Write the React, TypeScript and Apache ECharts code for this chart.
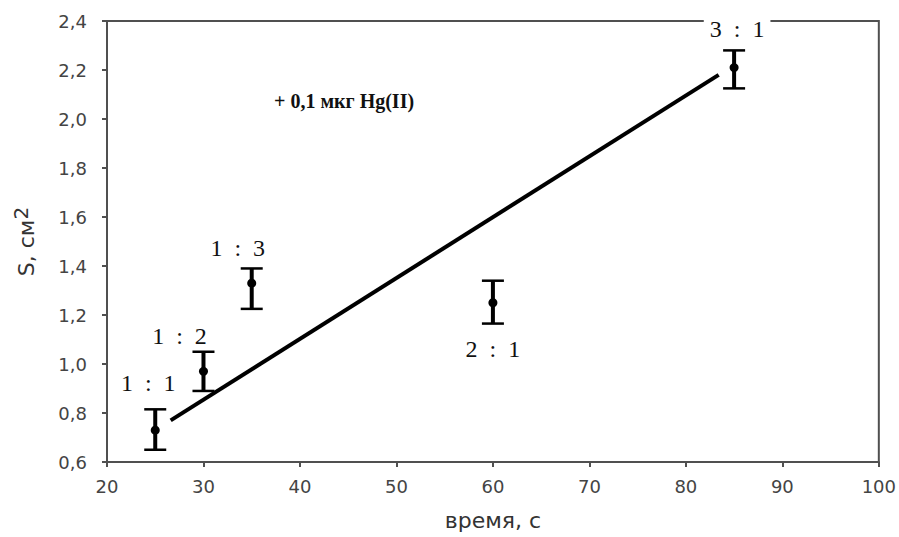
import React, { useEffect, useRef } from "react";
import * as echarts from "echarts";

// measured data (time, s ; S, cm2)
const xValues = [25, 30, 35, 60, 85];
const yValues = [0.73, 0.97, 1.33, 1.25, 2.21];
const errLow = [0.65, 0.89, 1.225, 1.165, 2.125];
const errHigh = [0.815, 1.05, 1.39, 1.34, 2.28];
const ratioLabels = ["1 : 1", "1 : 2", "1 : 3", "2 : 1", "3 : 1"];

// fitted line end points
const fitX = [26.6, 83.4];
const fitY = [0.77, 2.18];

const xAxisName = "время, с";
const yAxisName = "S, см";
const noteText = "+ 0,1 мкг Hg(II)";

// label placement relative to each point (px)
const labelDx = [-7, -24, -14, 0, 3];
const labelDy = [-47, -35, -35, 46, -39];

const SANS = '"DejaVu Sans", Verdana, sans-serif';
const SERIF = '"Liberation Serif", "Times New Roman", serif';

const spaced = (s: string) => s.replace(/ /g, "\u00a0\u00a0");

export default function App() {
  const ref = useRef<HTMLDivElement>(null);
  useEffect(() => {
    if (!ref.current) return;
    const chart = echarts.init(ref.current, undefined, { renderer: "svg" });
    const errData = xValues.map((x, i) => [x, yValues[i], errLow[i], errHigh[i], i]);
    const fitData = fitX.map((x, i) => [x, fitY[i]]);
    chart.setOption({
      animation: false,
      backgroundColor: "#ffffff",
      grid: {
        left: 107,
        right: 19,
        top: 21,
        bottom: 75,
        show: true,
        borderColor: "#505050",
        borderWidth: 2,
        backgroundColor: "transparent",
      },
      xAxis: {
        type: "value",
        min: 20,
        max: 100,
        interval: 10,
        name: xAxisName,
        nameLocation: "middle",
        nameGap: 47,
        nameTextStyle: { fontFamily: SANS, fontSize: 22, color: "#333" },
        axisLine: { show: true, lineStyle: { color: "#505050", width: 2 } },
        axisTick: { show: true, inside: false, length: 5, lineStyle: { color: "#505050", width: 2 } },
        axisLabel: { fontFamily: SANS, fontSize: 18, color: "#444", margin: 15 },
        splitLine: { show: false },
      },
      yAxis: {
        type: "value",
        min: 0.6,
        max: 2.4,
        interval: 0.2,
        name: yAxisName + "{sup|2}",
        nameLocation: "middle",
        nameGap: 66,
        nameRotate: 90,
        nameTextStyle: {
          fontFamily: SANS,
          fontSize: 22,
          color: "#333",
          rich: { sup: { fontFamily: SANS, fontSize: 20, color: "#333", verticalAlign: "top", padding: [0, 0, 10, 0] } },
        },
        axisLine: { show: true, lineStyle: { color: "#505050", width: 2 } },
        axisTick: { show: true, inside: false, length: 5, lineStyle: { color: "#505050", width: 2 } },
        axisLabel: {
          fontFamily: SANS,
          fontSize: 18,
          color: "#444",
          margin: 20,
          formatter: (v: number) => v.toFixed(1).replace(".", ","),
        },
        splitLine: { show: false },
      },
      graphic: [
        {
          type: "text",
          left: 274,
          top: 91,
          style: { text: noteText, font: `bold 20px ${SERIF}`, fill: "#111" },
          z: 10,
        },
      ],
      series: [
        {
          type: "line",
          data: fitData,
          symbol: "none",
          lineStyle: { color: "#000", width: 4 },
          z: 3,
        },
        {
          type: "custom",
          data: errData,
          z: 5,
          renderItem: (params: any, api: any) => {
            const x = api.value(0);
            const i = api.value(4);
            const p = api.coord([x, api.value(1)]);
            const lo = api.coord([x, api.value(2)]);
            const hi = api.coord([x, api.value(3)]);
            const hw = 11;
            return {
              type: "group",
              children: [
                { type: "line", shape: { x1: p[0], y1: lo[1], x2: p[0], y2: hi[1] }, style: { stroke: "#000", lineWidth: 4 } },
                { type: "line", shape: { x1: p[0] - hw, y1: lo[1], x2: p[0] + hw, y2: lo[1] }, style: { stroke: "#000", lineWidth: 2.5 } },
                { type: "line", shape: { x1: p[0] - hw, y1: hi[1], x2: p[0] + hw, y2: hi[1] }, style: { stroke: "#000", lineWidth: 2.5 } },
                { type: "circle", shape: { cx: p[0], cy: p[1], r: 4.5 }, style: { fill: "#000" } },
                {
                  type: "text",
                  style: {
                    text: spaced(ratioLabels[i]),
                    x: p[0] + labelDx[i],
                    y: p[1] + labelDy[i],
                    align: "center",
                    verticalAlign: "middle",
                    font: `24px ${SERIF}`,
                    fill: "#111",
                    backgroundColor: "#ffffff",
                    padding: [0, 6],
                  },
                },
              ],
            };
          },
        },
      ],
    });
    return () => chart.dispose();
  }, []);
  return (
    <div
      ref={ref}
      style={{ position: "fixed", left: 0, top: 0, width: 899, height: 537, background: "#fff" }}
    />
  );
}
